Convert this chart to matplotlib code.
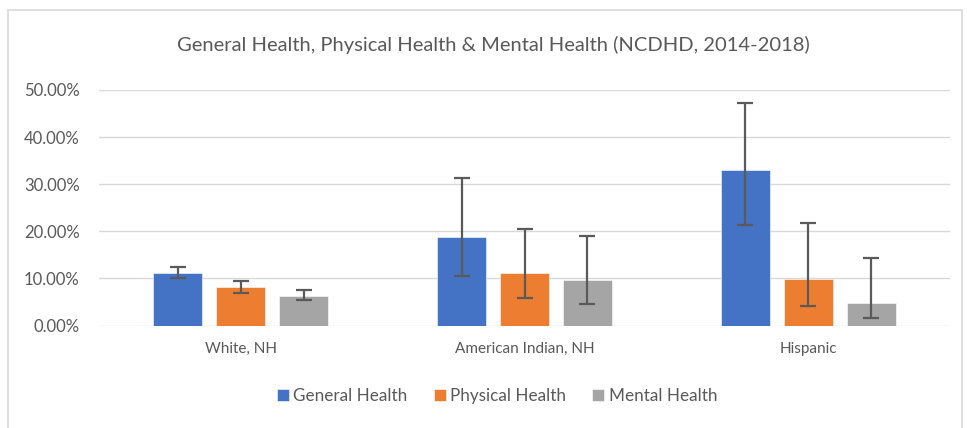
import matplotlib
matplotlib.use("Agg")
import matplotlib.pyplot as plt
import numpy as np
from matplotlib.patches import Rectangle
from matplotlib.ticker import FuncFormatter, MultipleLocator

categories = ["White, NH", "American Indian, NH", "Hispanic"]
series = ["General Health", "Physical Health", "Mental Health"]
general = [0.111, 0.188, 0.330]
general_lo = [0.100, 0.106, 0.214]
general_hi = [0.125, 0.314, 0.473]
physical = [0.081, 0.111, 0.098]
physical_lo = [0.070, 0.058, 0.041]
physical_hi = [0.095, 0.205, 0.218]
mental = [0.063, 0.096, 0.0485]
mental_lo = [0.054, 0.046, 0.015]
mental_hi = [0.075, 0.190, 0.144]

colors = ["#4472C4", "#ED7D31", "#A5A5A5"]
text_color = "#595959"
font = ["Lato", "DejaVu Sans"]
plt.rcParams["font.family"] = font

fig = plt.figure(figsize=(9.67, 4.28), dpi=100)
ax = fig.add_axes([99/967, 1-325.5/428, (950-99)/967, (325.5-90)/428])

x = np.arange(len(categories))
width = 0.172
offsets = [-0.222, 0.0, 0.222]
vals = [general, physical, mental]
los = [general_lo, physical_lo, mental_lo]
his = [general_hi, physical_hi, mental_hi]
handles = []
for k in range(3):
    v = np.array(vals[k]); lo = np.array(los[k]); hi = np.array(his[k])
    b = ax.bar(x + offsets[k], v, width, color=colors[k], label=series[k], zorder=2,
               edgecolor="white", linewidth=0.4)
    ax.errorbar(x + offsets[k], v, yerr=[v - lo, hi - v], fmt="none",
                ecolor="#5A5A5A", elinewidth=1.6, capsize=5.5, capthick=1.6, zorder=3)
    handles.append(b)

ax.set_xlim(-0.5, 2.5)
ax.set_ylim(0, 0.5)
ax.yaxis.set_major_locator(MultipleLocator(0.1))
ax.yaxis.set_major_formatter(FuncFormatter(lambda v, p: f"{v*100:.2f}%"))
ax.grid(axis="y", color="#D9D9D9", linewidth=1.0, zorder=0)
ax.set_axisbelow(True)
for s in ax.spines.values():
    s.set_visible(False)
ax.tick_params(axis="both", length=0, colors=text_color)
ax.tick_params(axis="y", pad=14, labelsize=12)
ax.tick_params(axis="x", pad=12, labelsize=11)
ax.set_xticks(x)
ax.set_xticklabels(categories)

fig.text(493.5/967, 1-45/428, "General Health, Physical Health & Mental Health (NCDHD, 2014-2018)",
         ha="center", va="center", fontsize=14.5, color=text_color)

leg = fig.legend(handles=handles, labels=series, loc="center", bbox_to_anchor=(497/967, 1-396/428),
                 ncol=3, frameon=False, fontsize=12.3, handlelength=0.7, handleheight=0.7,
                 handletextpad=0.25, columnspacing=1.55, labelcolor=text_color)

fig.patches.append(Rectangle((8/967, -0.1), (962-8)/967, 1.1-10/428, transform=fig.transFigure,
                             fill=False, edgecolor="#D9D9D9", linewidth=1.2))

fig.savefig("out.png", dpi=100)
